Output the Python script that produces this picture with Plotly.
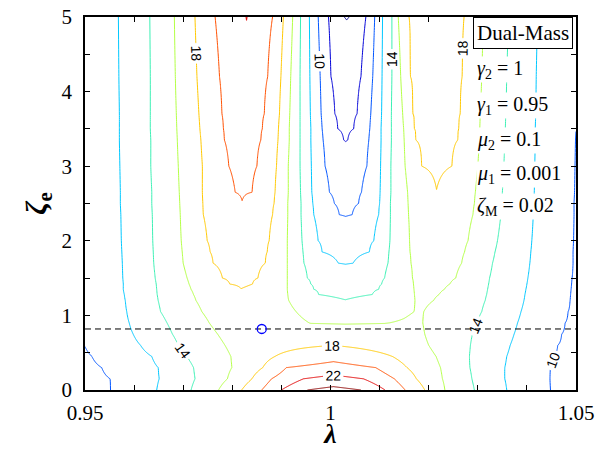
import numpy as np
import plotly.graph_objects as go

# ---------------- data ----------------
# rows of zeta_e; each row lists (lambda, value) knots read off the contour crossings
zeta_rows = [0.0, 0.15, 0.3, 0.45, 0.6, 0.75, 0.9, 1.05, 1.2, 1.28, 1.35, 1.42, 1.5, 1.7,
             1.85, 2.0, 2.35, 2.5, 2.65, 3.0, 3.35, 3.5, 3.7, 4.2, 5.0]

row_000 = [(0.95, 9.5), (0.9552, 10), (0.9646, 12), (0.9716, 14), (0.9772, 16), (0.9819, 18),
           (0.9860, 20), (0.9900, 22), (0.9953, 24), (1.0006, 24.6), (1.0062, 24), (1.0111, 22),
           (1.0152, 20), (1.0192, 18), (1.0233, 16), (1.0293, 14), (1.0359, 12), (1.0448, 10), (1.05, 9.6)]
row_015 = [(0.95, 9.55), (0.9551, 10), (0.9651, 12), (0.9724, 14), (0.9790, 16), (0.9840, 18),
           (0.9880, 20), (0.9945, 22), (1.0006, 22.6), (1.0067, 22), (1.0130, 20), (1.0175, 18),
           (1.0228, 16), (1.0288, 14), (1.0355, 12), (1.0447, 10), (1.05, 9.6)]
row_030 = [(0.95, 9.7), (0.9534, 10), (0.9649, 12), (0.9721, 14), (0.9799, 16), (0.9862, 18),
           (0.9910, 20), (1.0006, 20.8), (1.0092, 20), (1.0156, 18), (1.0224, 16), (1.0284, 14),
           (1.0355, 12), (1.0448, 10), (1.05, 9.62)]
row_045 = [(0.95, 9.85), (0.9514, 10), (0.9636, 12), (0.9707, 14), (0.9797, 16), (0.9887, 18),
           (1.0006, 19.3), (1.0126, 18), (1.0215, 16), (1.0283, 14), (1.0359, 12), (1.0454, 10), (1.05, 9.7)]
row_060 = [(0.95, 10.02), (0.9613, 12), (0.9690, 14), (0.9785, 16), (0.9860, 17.5), (1.0006, 17.98),
           (1.0120, 17.4), (1.0200, 16), (1.0285, 14), (1.0366, 12), (1.0463, 10), (1.05, 9.75)]
row_075 = [(0.95, 10.15), (0.9598, 12), (0.9678, 14), (0.9770, 16), (0.9835, 17.3), (0.9900, 17.1),
           (1.0030, 16.93), (1.0140, 16.9), (1.0192, 16), (1.0289, 14), (1.0374, 12), (1.0471, 10), (1.05, 9.8)]
row_090 = [(0.95, 10.25), (0.9590, 12), (0.9667, 14), (0.9753, 16), (0.9818, 17.45), (0.9890, 17.0),
           (0.9935, 16.3), (0.9960, 15.95), (1.0030, 15.88), (1.0110, 15.95), (1.0150, 16.15),
           (1.0172, 16.35), (1.0188, 16), (1.0299, 14), (1.0381, 12), (1.0478, 10), (1.05, 9.85)]
row_105 = [(0.95, 10.3), (0.9585, 12), (0.9654, 14), (0.9738, 16), (0.9818, 17.6), (0.9880, 17.2),
           (0.9930, 16), (0.9966, 15.3), (1.0030, 14.97), (1.0100, 15.2), (1.0170, 16), (1.0180, 16.08),
           (1.0190, 16), (1.0308, 14), (1.0388, 12), (1.0484, 10), (1.05, 9.87)]
row_120 = [(0.95, 10.3), (0.9582, 12), (0.9649, 14), (0.9726, 16), (0.9818, 17.8), (0.9915, 16),
           (0.9960, 14.6), (1.0030, 14.04), (1.0100, 14.6), (1.0172, 16), (1.0190, 16.2), (1.0210, 16),
           (1.0315, 14), (1.0394, 12), (1.0488, 10), (1.05, 9.9)]
row_128 = [(0.95, 10.3), (0.9580, 12), (0.9647, 14), (0.9721, 16), (0.9818, 17.9), (0.9913, 16),
           (0.9976, 14), (1.0031, 13.7), (1.0085, 14), (1.0171, 16), (1.0195, 16.3), (1.0221, 16),
           (1.0318, 14), (1.0396, 12), (1.0489, 10), (1.05, 9.905)]
row_135 = [(0.95, 10.3), (0.9578, 12), (0.9646, 14), (0.9716, 16), (0.9818, 17.98), (0.9860, 17.7),
           (0.9912, 16), (0.9966, 14), (1.0030, 13.4), (1.0098, 14), (1.0170, 16), (1.0200, 16.4),
           (1.0232, 16), (1.0320, 14), (1.0398, 12), (1.0490, 10), (1.05, 9.91)]
row_142 = [(0.95, 10.3), (0.9578, 12), (0.9645, 14), (0.9712, 16), (0.9795, 18), (0.9818, 18.14),
           (0.9841, 18), (0.9912, 16), (0.9960, 14), (1.0030, 13.1), (1.0104, 14), (1.0169, 16),
           (1.0205, 16.5), (1.0243, 16), (1.0322, 14), (1.0400, 12), (1.0491, 10), (1.05, 9.915)]
row_150 = [(0.95, 10.3), (0.9577, 12), (0.9643, 14), (0.9708, 16), (0.9780, 18), (0.9818, 18.3),
           (0.9852, 18), (0.9912, 16), (0.9953, 14), (1.0030, 12.77), (1.0110, 14), (1.0167, 16),
           (1.0210, 16.6), (1.0255, 16), (1.0324, 14), (1.0402, 12), (1.0492, 10), (1.05, 9.92)]
row_170 = [(0.95, 10.3), (0.9576, 12), (0.9640, 14), (0.9700, 16), (0.9761, 18), (0.9818, 18.6),
           (0.9867, 18), (0.9912, 16), (0.9946, 14), (1.0016, 12), (1.0031, 11.94), (1.0046, 12),
           (1.0117, 14), (1.0164, 16), (1.0215, 16.9), (1.0267, 16), (1.0330, 14), (1.0406, 12),
           (1.0494, 10), (1.05, 9.93)]
row_185 = [(0.95, 10.3), (0.9575, 12), (0.9639, 14), (0.9698, 16), (0.9755, 18), (0.9818, 18.9),
           (0.9871, 18), (0.9912, 16), (0.9944, 14), (0.9983, 12), (1.0031, 11.47), (1.0079, 12),
           (1.0119, 14), (1.0162, 16), (1.0216, 17.1), (1.0273, 16), (1.0335, 14), (1.0408, 12),
           (1.0494, 10), (1.05, 9.935)]
row_200 = [(0.95, 10.3), (0.9574, 12), (0.9638, 14), (0.9696, 16), (0.9749, 18), (0.9818, 19.2),
           (0.9875, 18), (0.9912, 16), (0.9942, 14), (0.9975, 12), (1.0031, 11.0), (1.0088, 12),
           (1.0121, 14), (1.0161, 16), (1.0218, 17.3), (1.0280, 16), (1.0340, 14), (1.0410, 12),
           (1.0495, 10), (1.05, 9.94)]
row_235 = [(0.95, 10.35), (0.9573, 12), (0.9637, 14), (0.9694, 16), (0.9741, 18), (0.9818, 19.85),
           (0.9882, 18), (0.9913, 16), (0.9940, 14), (0.9966, 12), (1.0018, 10), (1.0031, 9.93),
           (1.0044, 10), (1.0098, 12), (1.0122, 14), (1.0159, 16), (1.0216, 17.7), (1.0290, 16),
           (1.0347, 14), (1.0413, 12), (1.0496, 10), (1.05, 9.95)]
row_250 = [(0.95, 10.35), (0.9572, 12), (0.9636, 14), (0.9693, 16), (0.9740, 18), (0.9820, 19.97),
           (0.9885, 18), (0.9913, 16), (0.9940, 14), (0.9964, 12), (1.0008, 10), (1.0031, 9.64),
           (1.0057, 10), (1.0100, 12), (1.0122, 14), (1.0158, 16), (1.0216, 17.85), (1.0293, 16),
           (1.0349, 14), (1.0414, 12), (1.0496, 10), (1.05, 9.955)]
row_265 = [(0.95, 10.35), (0.9572, 12), (0.9636, 14), (0.9692, 16), (0.9739, 18), (0.9806, 20),
           (0.9822, 20.1), (0.9840, 20), (0.9887, 18), (0.9914, 16), (0.9939, 14), (0.9962, 12),
           (0.9998, 10), (1.0031, 9.35), (1.0063, 10), (1.0101, 12), (1.0123, 14), (1.0157, 16),
           (1.0216, 17.97), (1.0295, 16), (1.0350, 14), (1.0415, 12), (1.0497, 10), (1.05, 9.96)]
row_300 = [(0.95, 10.35), (0.9571, 12), (0.9634, 14), (0.9690, 16), (0.9739, 18), (0.9793, 20),
           (0.9822, 20.5), (0.9850, 20), (0.9890, 18), (0.9914, 16), (0.9938, 14), (0.9961, 12),
           (0.9989, 10), (1.0031, 8.65), (1.0074, 10), (1.0102, 12), (1.0123, 14), (1.0152, 16),
           (1.0186, 18), (1.0216, 18.25), (1.0247, 18), (1.0300, 16), (1.0353, 14), (1.0416, 12),
           (1.0498, 10), (1.05, 9.97)]
row_335 = [(0.95, 10.35), (0.9570, 12), (0.9634, 14), (0.9688, 16), (0.9736, 18), (0.9784, 20),
           (0.9823, 20.7), (0.9858, 20), (0.9893, 18), (0.9916, 16), (0.9938, 14), (0.9960, 12),
           (0.9985, 10), (1.0027, 8), (1.0031, 7.96), (1.0035, 8), (1.0078, 10), (1.0103, 12),
           (1.0124, 14), (1.0150, 16), (1.0174, 18), (1.0216, 18.45), (1.0259, 18), (1.0303, 16),
           (1.0355, 14), (1.0417, 12), (1.0499, 10), (1.05, 9.99)]
row_350 = [(0.95, 10.37), (0.9570, 12), (0.9633, 14), (0.9687, 16), (0.9734, 18), (0.9782, 20),
           (0.9824, 20.8), (0.9861, 20), (0.9894, 18), (0.9916, 16), (0.9938, 14), (0.9960, 12),
           (0.9983, 10), (1.0015, 8), (1.0031, 7.78), (1.0047, 8), (1.0080, 10), (1.0103, 12),
           (1.0124, 14), (1.0149, 16), (1.0171, 18), (1.0216, 18.52), (1.0261, 18), (1.0304, 16),
           (1.0356, 14), (1.0417, 12), (1.05, 10.003)]
row_370 = [(0.95, 10.4), (0.9570, 12), (0.9633, 14), (0.9686, 16), (0.9732, 18), (0.9779, 20),
           (0.9825, 20.9), (0.9865, 20), (0.9896, 18), (0.9917, 16), (0.9938, 14), (0.9959, 12),
           (0.9981, 10), (1.0009, 8), (1.0031, 7.54), (1.0054, 8), (1.0082, 10), (1.0104, 12),
           (1.0124, 14), (1.0147, 16), (1.0168, 18), (1.0216, 18.6), (1.0264, 18), (1.0305, 16),
           (1.0357, 14), (1.0418, 12), (1.05, 10.02)]
row_420 = [(0.95, 10.4), (0.9569, 12), (0.9633, 14), (0.9684, 16), (0.9728, 18), (0.9774, 20),
           (0.9827, 21.2), (0.9872, 20), (0.9899, 18), (0.9919, 16), (0.9938, 14), (0.9958, 12),
           (0.9979, 10), (1.0001, 8), (1.0032, 6.93), (1.0062, 8), (1.0086, 10), (1.0105, 12),
           (1.0125, 14), (1.0143, 16), (1.0163, 18), (1.0216, 18.8), (1.0268, 18), (1.0308, 16),
           (1.0359, 14), (1.0419, 12), (1.05, 10.05)]
row_500 = [(0.95, 10.4), (0.9568, 12), (0.9632, 14), (0.9682, 16), (0.9724, 18), (0.9765, 20),
           (0.9828, 22), (0.9829, 22.05), (0.9830, 22), (0.9882, 20), (0.9904, 18), (0.9923, 16),
           (0.9939, 14), (0.9957, 12), (0.9975, 10), (0.9996, 8), (1.0028, 6), (1.0033, 5.95),
           (1.0038, 6), (1.0072, 8), (1.0090, 10), (1.0106, 12), (1.0125, 14), (1.0138, 16),
           (1.0160, 18), (1.0216, 19.0), (1.0272, 18), (1.0311, 16), (1.0362, 14), (1.0421, 12),
           (1.05, 10.1)]

rows = [row_000, row_015, row_030, row_045, row_060, row_075, row_090, row_105, row_120,
        row_128, row_135, row_142, row_150, row_170, row_185, row_200, row_235, row_250,
        row_265, row_300, row_335, row_350, row_370, row_420, row_500]

levels = [6, 8, 10, 12, 14, 16, 18, 20, 22, 24]
level_colors = ["#00008F", "#0000D8", "#0055FF", "#00C8FF", "#3CF0B4", "#B4FF46",
                "#FFC800", "#FF5000", "#E00000", "#8C0000"]
labeled_levels = [10, 14, 18, 22]

dash_zeta = 0.818
marker_lambda = [0.986]
marker_zeta = [0.818]

x_tickvals = [0.95, 0.96, 0.97, 0.98, 0.99, 1.0, 1.01, 1.02, 1.03, 1.04, 1.05]
x_ticktext = ["0.95", "", "", "", "", "1", "", "", "", "", "1.05"]
y_tickvals = [0, 0.5, 1, 1.5, 2, 2.5, 3, 3.5, 4, 4.5, 5]
y_ticktext = ["0", "", "1", "", "2", "", "3", "", "4", "", "5"]

legend_title = "Dual-Mass"
legend_lines = ["<i>γ</i><sub>2</sub> = 1", "<i>γ</i><sub>1</sub> = 0.95",
                "<i>μ</i><sub>2</sub> = 0.1", "<i>μ</i><sub>1</sub> = 0.001",
                "<i>ζ</i><sub>M</sub> = 0.02"]

# ---------------- build the grid the contour trace needs ----------------
lam_grid = np.round(np.linspace(0.95, 1.05, 1001), 6)
zgrid = np.array([np.interp(lam_grid, [p[0] for p in r], [p[1] for p in r]) for r in rows])

fig = go.Figure()
for lv, col in zip(levels, level_colors):
    fig.add_trace(go.Contour(
        x=lam_grid, y=zeta_rows, z=zgrid,
        colorscale=[[0, col], [1, col]], showscale=False, autocontour=False,
        hoverinfo="skip", line=dict(width=1.0, smoothing=0.5),
        contours=dict(start=lv, end=lv, size=2, coloring="lines",
                      showlabels=lv in labeled_levels,
                      labelfont=dict(family="Liberation Sans", size=14, color="black"))))

fig.add_trace(go.Scatter(x=[x_tickvals[0], x_tickvals[-1]], y=[dash_zeta, dash_zeta], mode="lines",
                         line=dict(color="black", width=1, dash="6px,4px"), hoverinfo="skip",
                         showlegend=False))
fig.add_trace(go.Scatter(x=marker_lambda, y=marker_zeta, mode="markers",
                         marker=dict(symbol="circle-open", size=9, color="#0000FF",
                                     line=dict(width=1.3, color="#0000FF")),
                         hoverinfo="skip", showlegend=False))

serif = "Liberation Serif"
axis_common = dict(showline=True, linecolor="black", linewidth=1.5, mirror="ticks",
                   ticks="inside", ticklen=5, tickcolor="black", tickwidth=1,
                   showgrid=False, zeroline=False, automargin=False,
                   ticklabeloverflow="allow",
                   tickfont=dict(family=serif, size=21, color="black"))

fig.update_xaxes(range=[0.95, 1.05], tickvals=x_tickvals, ticktext=x_ticktext,
                 ticklabelstandoff=3,
                 title=dict(text="<b><i>λ</i></b>", font=dict(family=serif, size=28, color="black"),
                            standoff=5),
                 **axis_common)
fig.update_yaxes(range=[0, 5], tickvals=y_tickvals, ticktext=y_ticktext,
                 ticklabelstandoff=7,
                 title=dict(text="<b><i>ζ</i><sub>e</sub></b>",
                            font=dict(family=serif, size=30, color="black"), standoff=6),
                 **axis_common)

annotations = [dict(text=legend_title, xref="paper", yref="paper", x=0.790, y=1.0,
                    xanchor="left", yanchor="top", showarrow=False,
                    font=dict(family=serif, size=21, color="black"),
                    bgcolor="white", bordercolor="black", borderwidth=1, borderpad=3)]
line_y = [0.858, 0.764, 0.670, 0.579, 0.491]
for txt, yy in zip(legend_lines, line_y):
    annotations.append(dict(text=txt, xref="paper", yref="paper", x=0.797, y=yy,
                            xanchor="left", yanchor="middle", showarrow=False,
                            font=dict(family=serif, size=20, color="black"),
                            bgcolor="white", borderpad=0))

fig.update_layout(width=606, height=449, margin=dict(l=85, r=30, t=17, b=59),
                  paper_bgcolor="white", plot_bgcolor="white", showlegend=False,
                  annotations=annotations)

# remove the default 8 px page margin so the figure sits at the window's corner
fig.write_html("out.html", config={"displayModeBar": False},
               post_script="document.body.style.margin='0';")
